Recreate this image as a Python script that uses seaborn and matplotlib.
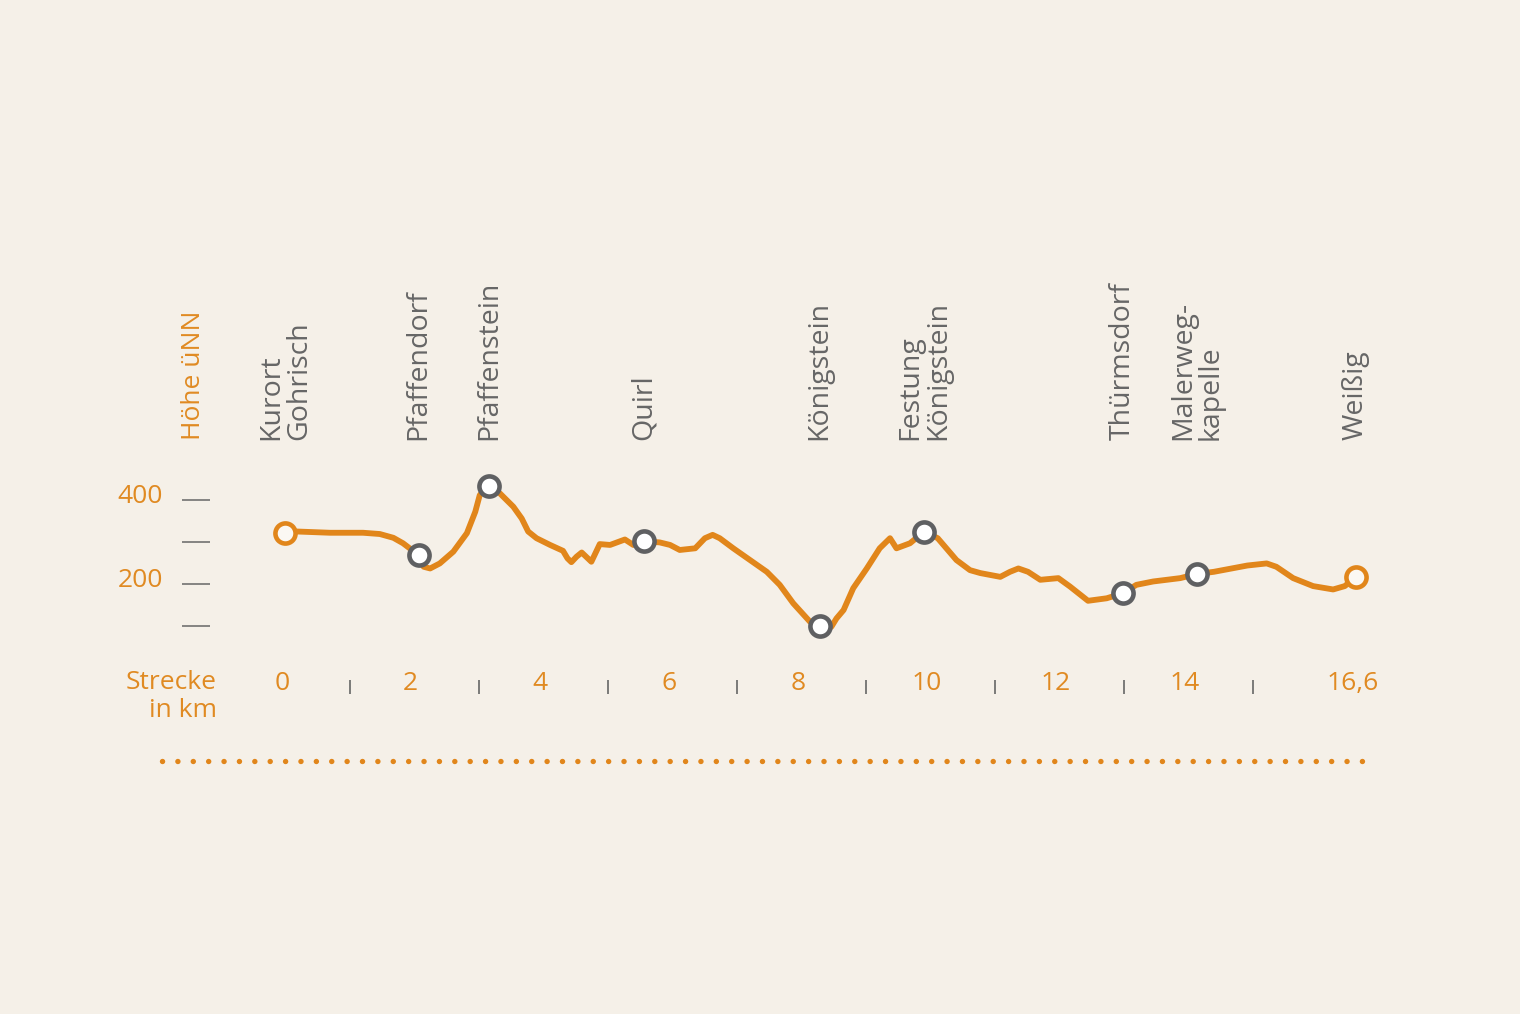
import numpy as np
import matplotlib as mpl
mpl.use('Agg')
import seaborn as sns
import matplotlib.pyplot as plt

# elevation profile, km along the trail vs. height above sea level (m)
profile_km = [0, 0.18, 0.70, 1.21, 1.47, 1.68, 1.83, 2.07, 2.15, 2.25,
              2.4, 2.61, 2.82, 2.95, 3.02, 3.17, 3.33, 3.54, 3.67, 3.77,
              3.9, 4.11, 4.31, 4.38, 4.44, 4.52, 4.6, 4.75, 4.88, 5.04,
              5.27, 5.4, 5.56, 5.81, 5.97, 6.12, 6.36, 6.51, 6.63, 6.74,
              6.95, 7.47, 7.67, 7.88, 8.14, 8.29, 8.47, 8.55, 8.66, 8.81,
              9.02, 9.22, 9.38, 9.48, 9.69, 9.91, 10.12, 10.41, 10.62, 10.78,
              11.09, 11.24, 11.37, 11.52, 11.71, 11.99, 12.17, 12.45, 12.74, 12.99,
              13.2, 13.46, 13.88, 14.14, 14.4, 14.92, 15.22, 15.37, 15.63, 15.94,
              16.25, 16.43, 16.6]
profile_elev = [322, 325, 322, 322, 319, 310, 297, 269, 241, 237,
                249, 277, 321, 372, 412, 433, 416, 384, 356, 325,
                309, 293, 279, 261, 252, 265, 275, 253, 295, 293,
                306, 293, 302, 299, 293, 281, 285, 309, 317, 309,
                285, 229, 198, 154, 110, 100, 98, 118, 138, 190,
                237, 285, 309, 285, 297, 325, 309, 257, 233, 226,
                217, 229, 237, 229, 210, 214, 194, 160, 166, 178,
                198, 206, 214, 224, 229, 244, 249, 241, 214, 195,
                187, 195, 216]

stop_names = ["Kurort\nGohrisch", "Pfaffendorf", "Pfaffenstein", "Quirl", "Königstein",
              "Festung\nKönigstein", "Thürmsdorf", "Malerweg-\nkapelle", "Weißig"]
stop_km = [0, 2.07, 3.17, 5.56, 8.29, 9.91, 12.99, 14.14, 16.6]
stop_elev = [322, 269, 433, 302, 100, 325, 178, 224, 216]

y_ticks = [100, 200, 300, 400]
y_ticklabels = ["", "200", "", "400"]
x_labels_km = [0, 2, 4, 6, 8, 10, 12, 14, 16.6]
x_labels = ["0", "2", "4", "6", "8", "10", "12", "14", "16,6"]
x_marks_km = [1, 3, 5, 7, 9, 11, 13, 15]

BG = "#F5F0E8"
ORANGE = "#E1861B"
TXT_ORANGE = "#E08A22"
GRAY = "#666666"

sns.set_style("white")
plt.rcParams['font.family'] = ['Open Sans', 'DejaVu Sans']

fig = plt.figure(figsize=(15.2, 10.14), dpi=100, facecolor=BG)
ax = fig.add_axes([0, 0, 1, 1])
ax.set_facecolor(BG)
# pixel mapping: km 0 -> x 285px, 64.5px per km; 400 m -> y 500px, 42px per 100 m
ax.set_xlim(-285 / 64.5, (1520 - 285) / 64.5)
ax.set_ylim(400 - (1014 - 500) * 100 / 42, 400 + 500 * 100 / 42)
ax.axis('off')

df = {"km": profile_km, "elev": profile_elev}
sns.lineplot(x="km", y="elev", data=df, sort=False, color=ORANGE, lw=4.2, ax=ax,
             solid_joinstyle='round', solid_capstyle='round', zorder=2)

# stop markers: start/end in orange, rest gray
for i, (k, e) in enumerate(zip(stop_km, stop_elev)):
    ends = i in (0, len(stop_km) - 1)
    ec = ORANGE if ends else "#5f6062"
    ax.plot(k, e, 'o', ms=14.5, mfc="#FBF8F3" if ends else "white", mec=ec, mew=3.3, zorder=3)
    ax.text(k, 543, stop_names[i], rotation=90, ha='center', va='bottom', multialignment='left',
            fontsize=20.5, color=GRAY, linespacing=0.98)

# y axis ticks
ax.hlines(y_ticks, -1.597, -1.163, color=GRAY, lw=1.1)
for t, lab in zip(y_ticks, y_ticklabels):
    ax.text(-1.891, t + 9, lab, ha='right', va='center', fontsize=19, color=TXT_ORANGE)
ax.text(-1.411, 543, "Höhe üNN", rotation=90, ha='center', va='bottom', fontsize=19, color=TXT_ORANGE)

# x axis labels and marks
for k, lab in zip(x_labels_km, x_labels):
    ax.text(k - 0.05, -38, lab, ha='center', va='center', fontsize=19, color=TXT_ORANGE)
ax.vlines(x_marks_km, -61.9, -28.6, color=GRAY, lw=1.2)
ax.text(-1.054, -5, "Strecke\nin km", ha='right', va='top', fontsize=19, color=TXT_ORANGE,
        linespacing=1.15)

# dotted separator
ax.plot([-1.907, 16.82], [-220.7, -220.7], color=ORANGE, lw=3.9,
        linestyle=(0, (0.01, 2.83)), dash_capstyle='round')

fig.savefig("out.png", dpi=100, facecolor=BG)
